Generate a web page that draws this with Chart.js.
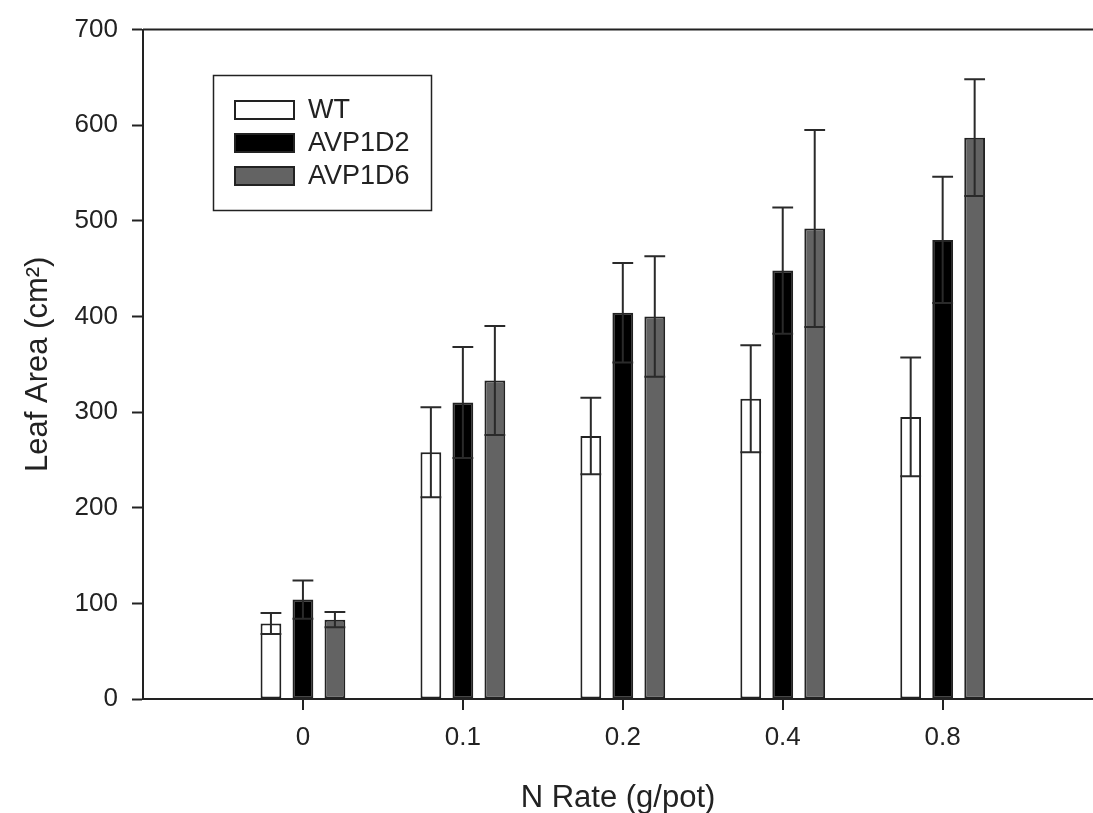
<!DOCTYPE html>
<html>
<head>
<meta charset="utf-8">
<script src="https://cdn.jsdelivr.net/npm/chart.js@4"></script>
<style>
  body { margin: 0; background: #fff; overflow: hidden; }
  #chart { display: block; }
</style>
</head>
<body>
<canvas id="chart" width="1093" height="813"></canvas>
<script>
// values (leaf area, cm2, mean and error)
const nRates = ['0', '0.1', '0.2', '0.4', '0.8'];
const wtMean = [79, 258, 275, 314, 295];
const wtErr = [11, 47, 40, 56, 62];
const d2Mean = [104, 310, 404, 448, 480];
const d2Err = [20, 58, 52, 66, 66];
const d6Mean = [83, 333, 400, 492, 587];
const d6Err = [8, 57, 63, 103, 61];
const yTicks = [0, 100, 200, 300, 400, 500, 600, 700];

const ink = '#222';
const fontFam = '"Liberation Sans", Arial, sans-serif';

function toPoints(arr) {
    return arr.map((v, i) => ({x: i + 1, y: v}));
}

const series = [
    {label: 'WT', mean: wtMean, err: wtErr, fill: '#ffffff'},
    {label: 'AVP1D2', mean: d2Mean, err: d2Err, fill: '#000000'},
    {label: 'AVP1D6', mean: d6Mean, err: d6Err, fill: '#636363'}
];

// error bars, caps at both ends, as wide as the bar
const errorBars = {
    id: 'errorBars',
    afterDatasetsDraw(chart) {
        const ctx = chart.ctx;
        const y = chart.scales.y;
        ctx.save();
        ctx.strokeStyle = '#2a2a2a';
        ctx.lineWidth = 2;
        chart.data.datasets.forEach((ds, di) => {
            const meta = chart.getDatasetMeta(di);
            meta.data.forEach((bar, i) => {
                const m = ds.data[i].y;
                const e = ds.errors[i];
                const top = y.getPixelForValue(m + e);
                const bot = y.getPixelForValue(m - e);
                const hw = bar.width / 2;
                ctx.beginPath();
                ctx.moveTo(bar.x, bot);
                ctx.lineTo(bar.x, top);
                ctx.moveTo(bar.x - hw, top);
                ctx.lineTo(bar.x + hw, top);
                ctx.moveTo(bar.x - hw, bot);
                ctx.lineTo(bar.x + hw, bot);
                ctx.stroke();
            });
        });
        ctx.restore();
    }
};

// top frame line, x tick marks and boxed legend inside the plot
const frameAndLegend = {
    id: 'frameAndLegend',
    afterDraw(chart) {
        const ctx = chart.ctx;
        const a = chart.chartArea;
        const xs = chart.scales.x;
        ctx.save();
        ctx.strokeStyle = ink;
        ctx.lineWidth = 2;
        ctx.beginPath();
        ctx.moveTo(a.left, a.top);
        ctx.lineTo(a.right, a.top);
        ctx.stroke();

        // tick marks under each group, at the group centre
        ctx.fillStyle = ink;
        nRates.forEach((_, i) => {
            const px = Math.round(xs.getPixelForValue(i + 1));
            ctx.fillRect(px - 1, a.bottom, 2, 11);
        });

        ctx.lineWidth = 1.5;
        ctx.strokeRect(213.5, 75.5, 218, 135);
        ctx.font = '27px ' + fontFam;
        ctx.textBaseline = 'middle';
        chart.data.datasets.forEach((ds, i) => {
            const sy = 100 + i * 33;
            ctx.fillStyle = ds.backgroundColor;
            ctx.fillRect(234, sy, 61, 20);
            ctx.strokeStyle = ink;
            ctx.lineWidth = 2;
            ctx.strokeRect(235, sy + 1, 59, 18);
            ctx.fillStyle = ink;
            ctx.fillText(ds.label, 308, sy + 11);
        });
        ctx.restore();
    }
};

new Chart(document.getElementById('chart'), {
    type: 'bar',
    data: {
        datasets: series.map(s => ({
            label: s.label,
            data: toPoints(s.mean),
            errors: s.err,
            backgroundColor: s.fill,
            borderColor: ink,
            borderWidth: 2,
            borderSkipped: false,
            categoryPercentage: 0.6,
            barPercentage: 0.65
        }))
    },
    options: {
        responsive: false,
        animation: false,
        layout: {padding: {top: 28, right: 0, bottom: 0, left: 0}},
        plugins: {legend: {display: false}, tooltip: {enabled: false}},
        scales: {
            x: {
                type: 'linear',
                min: 0,
                max: 5.94,
                offset: false,
                afterBuildTicks: (scale) => {
                    scale.ticks = nRates.map((_, i) => ({value: i + 1}));
                },
                afterFit: (scale) => { scale.height = 114; },
                ticks: {
                    callback: (v) => nRates[v - 1],
                    color: ink,
                    font: {family: fontFam, size: 26},
                    padding: 23,
                    maxRotation: 0
                },
                grid: {offset: false, drawOnChartArea: false, drawTicks: false, tickLength: 10},
                border: {display: true, color: ink, width: 2},
                title: {
                    display: true,
                    text: 'N Rate (g/pot)',
                    color: ink,
                    font: {family: fontFam, size: 31},
                    padding: {top: 0, bottom: -4}
                }
            },
            y: {
                min: 0,
                max: 700,
                afterBuildTicks: (scale) => {
                    scale.ticks = yTicks.map(v => ({value: v}));
                },
                afterFit: (scale) => { scale.width = 143; },
                ticks: {
                    color: ink,
                    font: {family: fontFam, size: 26},
                    padding: 14
                },
                grid: {drawOnChartArea: false, tickLength: 11, tickColor: ink, tickWidth: 2},
                border: {display: true, color: ink, width: 2},
                title: {
                    display: true,
                    text: 'Leaf Area (cm²)',
                    color: ink,
                    font: {family: fontFam, size: 31},
                    padding: {top: 20, bottom: 0}
                }
            }
        }
    },
    plugins: [errorBars, frameAndLegend]
});
</script>
</body>
</html>
